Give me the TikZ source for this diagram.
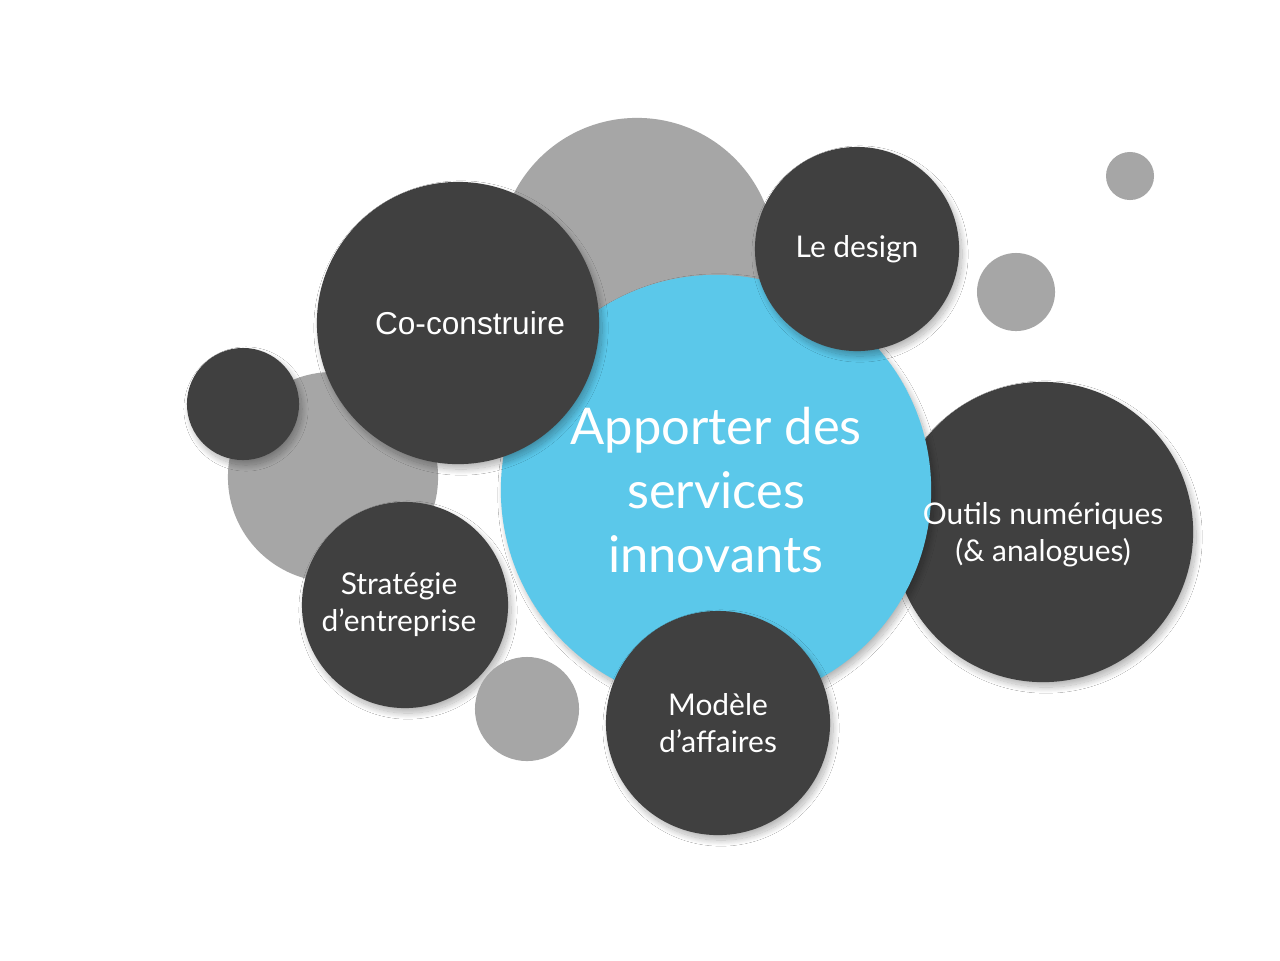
\documentclass[tikz,border=0pt]{standalone}
\usepackage{fontspec}
\setmainfont{Lato}
\newfontfamily\arialfont{Liberation Sans}
\usetikzlibrary{shadows.blur}

\definecolor{sombre}{HTML}{404040}
\definecolor{grise}{HTML}{A6A6A6}
\definecolor{bleue}{HTML}{5BC8EA}

\tikzset{
  bulle/.style={circle, inner sep=0pt, minimum size=#1*0.02cm, align=center, text=white},
  ombre/.style={blur shadow={shadow xshift=0.03cm, shadow yshift=-0.05cm, shadow blur radius=0.06cm, shadow blur steps=24, shadow opacity=30}},
  petit/.style={font=\fontsize{8.5}{10.5}\selectfont},
  grand/.style={font=\fontsize{14.4}{18.2}\selectfont}
}

\begin{document}
\begin{tikzpicture}[x=0.01cm, y=-0.01cm]
  % Boundary
  \path[use as bounding box, fill=white] (0,0) rectangle (1280,960);
  % Background bubbles
  \node[bulle=138, fill=grise] (haut) at (637,256) {};
  \node[bulle=105, fill=grise] (gauche) at (333,477) {};
  \node[bulle=56, fill=sombre, ombre] (point) at (243,404) {};
  % Outer bubbles
  \node[bulle=150, fill=sombre, ombre] (outils) at (1043,532) {};
  % Center
  \node[bulle=215, fill=bleue, ombre, grand] (centre) at (716,490) {Apporter des\\services\\innovants};
  \node[petit, text=white, align=center] (outilstexte) at ([yshift=-0.03cm]outils.center) {Outils numériques\\(\& analogues)};
  \node[bulle=141, fill=sombre, ombre,
        label={[text=white, xshift=0.12cm, font=\arialfont\fontsize{9}{11}\selectfont]center:Co-construire}] (cocon) at (458,323) {};
  \node[bulle=102, fill=sombre, ombre, petit] (design) at (857,249) {Le design};
  \node[bulle=103, fill=sombre, ombre,
        label={[text=white, xshift=-0.06cm, align=center, petit]center:Stratégie\\d’entreprise}] (strat) at (405,605) {};
  \node[bulle=112, fill=sombre, ombre, petit] (modele) at (718,723) {Modèle\\d’affaires};
  % Small bubbles
  \node[bulle=24, fill=grise] (mini) at (1130,176) {};
  \node[bulle=39, fill=grise] (droite) at (1016,292) {};
  \node[bulle=52, fill=grise] (bas) at (527,709) {};
\end{tikzpicture}
\end{document}
